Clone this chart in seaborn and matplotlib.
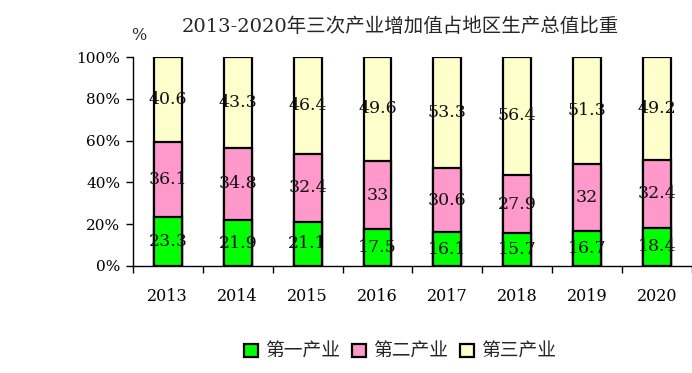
import matplotlib

matplotlib.use("Agg")

import matplotlib.pyplot as plt
import pandas as pd
import seaborn as sns
from matplotlib.patches import Patch
from matplotlib.ticker import FixedLocator, PercentFormatter

years = ["2013", "2014", "2015", "2016", "2017", "2018", "2019", "2020"]
primary = [23.3, 21.9, 21.1, 17.5, 16.1, 15.7, 16.7, 18.4]
secondary = [36.1, 34.8, 32.4, 33, 30.6, 27.9, 32, 32.4]
tertiary = [40.6, 43.3, 46.4, 49.6, 53.3, 56.4, 51.3, 49.2]
series_names = ["第一产业", "第二产业", "第三产业"]
colors = ["#00FF00", "#FF99CC", "#FFFFCC"]

sns.set_theme(style="white")
plt.rcParams["font.family"] = ["DejaVu Serif", "Noto Sans CJK SC"]

df = pd.DataFrame({"year": years, "p1": primary, "p2": secondary, "p3": tertiary})
total = df[["p1", "p2", "p3"]].sum(axis=1)
for col in ["p1", "p2", "p3"]:
    df[col + "_pct"] = df[col] / total * 100
df["cum1"] = df["p1_pct"]
df["cum2"] = df["cum1"] + df["p2_pct"]
df["cum3"] = df["cum2"] + df["p3_pct"]

fig = plt.figure(figsize=(6.92, 3.73), dpi=100)
ax = fig.add_axes([0.192, 0.287, 0.808, 0.56])

# stacked look: draw the cumulative totals from the top down
for cum, color in zip(["cum3", "cum2", "cum1"], colors[::-1]):
    sns.barplot(data=df, x="year", y=cum, color=color, width=0.4,
                edgecolor="black", linewidth=1.6, saturation=1, ax=ax)

for i, row in df.iterrows():
    centers = [row["cum1"] / 2, (row["cum1"] + row["cum2"]) / 2, (row["cum2"] + row["cum3"]) / 2]
    for c, val in zip(centers, [row["p1"], row["p2"], row["p3"]]):
        ax.text(i, c, f"{val:g}", ha="center", va="center", fontsize=12.5, color="#111111")

ax.set_xlim(-0.5, len(years) - 0.5)
ax.set_ylim(0, 100)
ax.set_yticks(range(0, 101, 20))
ax.yaxis.set_major_formatter(PercentFormatter(decimals=0))
ax.xaxis.set_minor_locator(FixedLocator([i - 0.5 for i in range(len(years) + 1)]))
ax.tick_params(axis="x", which="major", length=0, pad=16, labelsize=11.5, colors="black")
ax.tick_params(axis="x", which="minor", length=5, width=1, direction="out", bottom=True, color="black")
ax.tick_params(axis="y", length=5, width=1, direction="out", left=True, labelsize=11, colors="black", pad=4)
ax.set_xlabel("")
ax.set_ylabel("")
for side in ["top", "right"]:
    ax.spines[side].set_visible(False)
for side in ["left", "bottom"]:
    ax.spines[side].set_color("black")
    ax.spines[side].set_linewidth(1)

fig.text(0.578, 0.928, "2013-2020年三次产业增加值占地区生产总值比重", ha="center", va="center", fontsize=14)
fig.text(0.201, 0.905, "%", ha="center", va="center", fontsize=11.5)

handles = [Patch(facecolor=c, edgecolor="black", linewidth=1.6) for c in colors]
fig.legend(handles, series_names, loc="center", bbox_to_anchor=(0.578, 0.056), ncol=3,
           frameon=False, fontsize=13.5, handlelength=0.75, handleheight=0.75,
           handletextpad=0.4, columnspacing=0.6)

fig.savefig("out.png", dpi=100)
